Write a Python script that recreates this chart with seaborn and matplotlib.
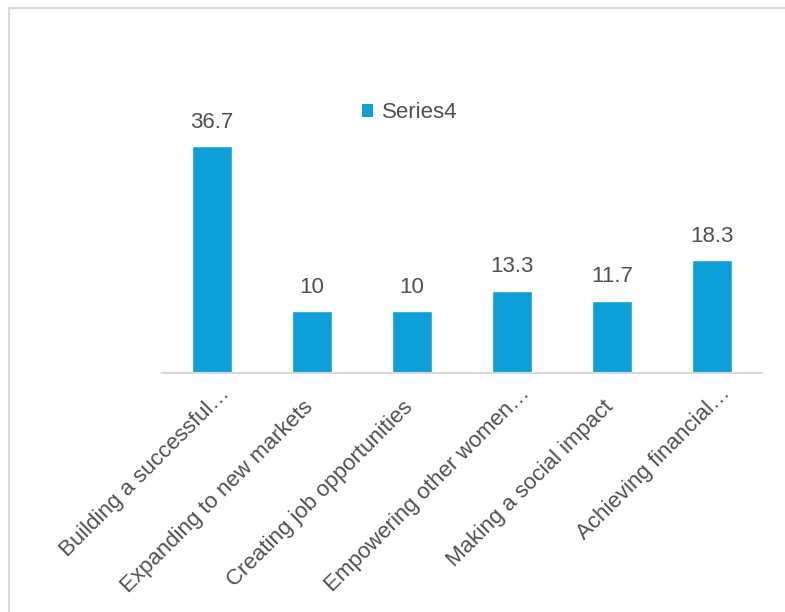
import matplotlib
matplotlib.use("Agg")
import matplotlib.pyplot as plt
import seaborn as sns
import pandas as pd
from matplotlib.lines import Line2D
from matplotlib.patches import Patch
import matplotlib.transforms as mtransforms

categories = ["Building a successful…", "Expanding to new markets", "Creating job opportunities",
              "Empowering other women…", "Making a social impact", "Achieving financial…"]
values = [36.7, 10, 10, 13.3, 11.7, 18.3]
labels = ["36.7", "10", "10", "13.3", "11.7", "18.3"]
series_name = "Series4"

sns.set_theme(style="white")
plt.rcParams['font.family'] = ['Liberation Sans', 'DejaVu Sans']

W, H = 785, 612
fig = plt.figure(figsize=(W/100, H/100), dpi=100)
ax = fig.add_axes([162/W, 1-373/H, 600/W, 333/H])

df = pd.DataFrame({"cat": categories, "val": values})
bar_color = "#0E9FD8"
sns.barplot(data=df, x="cat", y="val", color=bar_color, width=0.4, ax=ax, saturation=1)
ax.set_xlim(-0.5, 5.5)
ax.set_ylim(0, 333/6.19)
ax.set_xlabel("")
ax.set_ylabel("")
ax.set_yticks([])
for s in ["top", "right", "left"]:
    ax.spines[s].set_visible(False)
ax.spines["bottom"].set_color("#D9D9D9")
ax.spines["bottom"].set_linewidth(1.5)
ax.tick_params(axis="x", length=0, pad=0)

txt_color = "#505050"
fs = 16
ax.set_xticks(range(len(categories)))
ax.set_xticklabels(categories, rotation=45, ha="right", va="baseline", rotation_mode="anchor",
                   fontsize=fs, color=txt_color)
for lab in ax.get_xticklabels():
    if lab.get_text().endswith("…"):
        dx, dy = 19, -21
    else:
        dx, dy = 2, -35
    off = mtransforms.ScaledTranslation(dx/100, dy/100, fig.dpi_scale_trans)
    lab.set_transform(lab.get_transform() + off)

for i, (v, l) in enumerate(zip(values, labels)):
    ax.annotate(l, (i, v), xytext=(0, 9.5), textcoords="offset points", ha="center", va="bottom",
                fontsize=fs, color=txt_color, annotation_clip=False)

handles = [Patch(facecolor=bar_color, edgecolor="none")]
fig.legend(handles, [series_name], loc="center left", bbox_to_anchor=(342/W, 1-113/H),
           frameon=False, fontsize=fs, labelcolor=txt_color, handlelength=0.5, handleheight=0.5,
           handletextpad=0.4)

# outer border
fig.add_artist(Line2D([9/W, 9/W], [0, 1-8/H], transform=fig.transFigure, color="#D9D9D9", lw=1.5))
fig.add_artist(Line2D([9/W, 1], [1-8/H, 1-8/H], transform=fig.transFigure, color="#D9D9D9", lw=1.5))

fig.savefig("out.png", dpi=100, facecolor="white")
